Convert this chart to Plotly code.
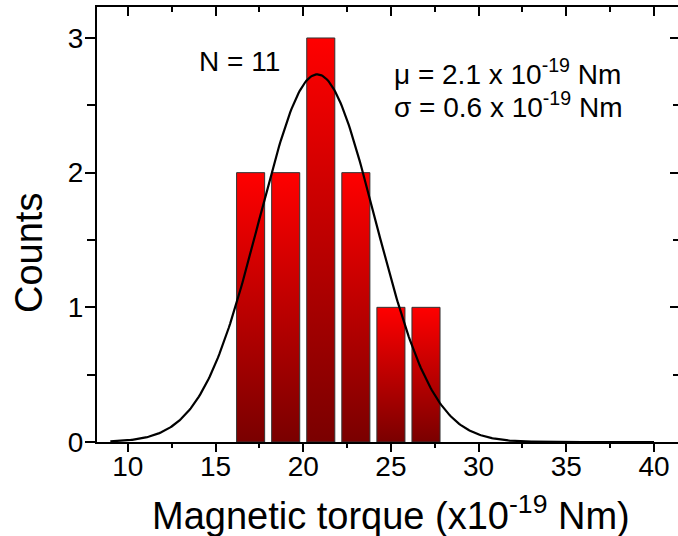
import numpy as np
import plotly.graph_objects as go

# ---- data ----
bin_centers = [17, 19, 21, 23, 25, 27]
counts = [2, 2, 3, 2, 1, 1]
x_ticks = [10, 15, 20, 25, 30, 35, 40]
y_ticks = [0, 1, 2, 3]

# Gaussian fit drawn over the histogram (fit parameters)
fit_amplitude = 2.73
fit_center = 20.8
fit_sigma = 3.3
fit_x_start = 9.0
fit_x_end = 40.0

n_label = "N = 11"
mu_label = "μ = 2.1 x 10<sup>-19</sup> Nm"
sigma_label = "σ = 0.6 x 10<sup>-19</sup> Nm"
x_title = "Magnetic torque (x10<sup>-19</sup> Nm)"
y_title = "Counts"

# ---- style ----
BAR_W = 1.6
FONT = "Arial, Liberation Sans, sans-serif"
XR = [8.24, 41.37]
YR = [0, 3.23]
W, H = 678, 536
ML, MR, MT, MB = 97, 0, 7, 94

fig = go.Figure()

for c, n in zip(bin_centers, counts):
    x0, x1 = c - BAR_W / 2, c + BAR_W / 2
    fig.add_trace(go.Scatter(
        x=[x0, x1, x1, x0, x0], y=[0, 0, n, n, 0],
        mode="lines", fill="toself",
        line=dict(color="#333333", width=1),
        fillgradient=dict(type="vertical",
                          colorscale=[[0, "#7a0000"], [1, "#ff0000"]]),
        hoverinfo="skip", showlegend=False))

fx = np.linspace(fit_x_start, fit_x_end, 400)
fy = fit_amplitude * np.exp(-((fx - fit_center) ** 2) / (2 * fit_sigma ** 2))
fig.add_trace(go.Scatter(x=fx, y=fy, mode="lines",
                         line=dict(color="black", width=2.2),
                         hoverinfo="skip", showlegend=False))

# invisible trace to create the mirrored (top/right) axes
fig.add_trace(go.Scatter(x=[XR[0]], y=[YR[0]], xaxis="x2", yaxis="y2",
                         mode="markers", marker=dict(opacity=0),
                         hoverinfo="skip", showlegend=False))

axis_common = dict(showline=True, linecolor="black", linewidth=2,
                   showgrid=False, zeroline=False, tickcolor="black",
                   automargin=False,
                   tickwidth=1.5, tickfont=dict(family=FONT, size=28, color="black"))

fig.update_layout(
    width=W, height=H,
    margin=dict(l=ML, r=MR, t=MT, b=MB, pad=0, autoexpand=False),
    paper_bgcolor="white", plot_bgcolor="white",
    showlegend=False,
    xaxis=dict(range=XR, tickvals=x_ticks, ticks="outside", ticklen=8,
               minor=dict(ticks="outside", ticklen=4, dtick=2.5, tick0=10,
                          tickcolor="black", tickwidth=1.5),
               ticklabelstandoff=-10, **axis_common),
    yaxis=dict(range=YR, tickvals=y_ticks, ticks="outside", ticklen=10,
               minor=dict(ticks="outside", ticklen=8, dtick=0.5, tick0=0,
                          tickcolor="black", tickwidth=1.5),
               ticklabelstandoff=-4, **axis_common),
    xaxis2=dict(range=XR, overlaying="x", side="top", anchor="y2",
                tickvals=x_ticks, ticks="inside", ticklen=9,
                minor=dict(ticks="inside", ticklen=5, dtick=2.5, tick0=10,
                           tickcolor="black", tickwidth=1.5),
                showticklabels=False, **axis_common),
    yaxis2=dict(range=YR, overlaying="y", side="right", anchor="x2",
                tickvals=y_ticks, ticks="inside", ticklen=8,
                minor=dict(ticks="inside", ticklen=5, dtick=0.5, tick0=0,
                           tickcolor="black", tickwidth=1.5),
                showticklabels=False, **axis_common),
)

pw = W - ML - MR
ph = H - MT - MB


def px(xp):
    return (xp - ML) / pw


def py(yp):
    return (H - MB - yp) / ph


ann_font = dict(family=FONT, size=28, color="black")
fig.add_annotation(x=px(197), y=py(62), xref="paper", yref="paper",
                   text=n_label, showarrow=False, xanchor="left",
                   yanchor="middle", font=ann_font)
fig.add_annotation(x=px(392), y=py(72), xref="paper", yref="paper",
                   text=mu_label, showarrow=False, xanchor="left",
                   yanchor="middle", font=ann_font)
fig.add_annotation(x=px(392), y=py(105), xref="paper", yref="paper",
                   text=sigma_label, showarrow=False, xanchor="left",
                   yanchor="middle", font=ann_font)
fig.add_annotation(x=px(391), y=py(513), xref="paper", yref="paper",
                   text=x_title, showarrow=False, xanchor="center",
                   yanchor="middle", font=dict(family=FONT, size=38, color="black"))
fig.add_annotation(x=px(29), y=py(253), xref="paper", yref="paper",
                   text=y_title, showarrow=False, xanchor="center",
                   yanchor="middle", textangle=-90,
                   font=dict(family=FONT, size=38, color="black"))

fig.write_html(
    "out.html",
    config={"displayModeBar": False},
    post_script="document.body.style.margin='0';"
                "document.body.style.overflow='hidden';",
)
